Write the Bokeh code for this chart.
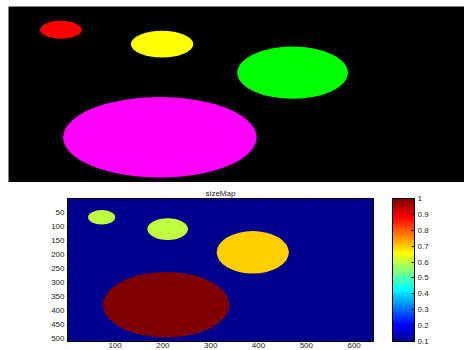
from bokeh.plotting import figure
from bokeh.layouts import column
from bokeh.models import (Range1d, LinearColorMapper, ColorBar, FixedTicker,
                          LinearAxis, ColumnDataSource)
from bokeh.embed import file_html
from bokeh.resources import INLINE

# Blob centres, diameters (pixels of a 640x512 image) and their size values
blob_x = [72, 210, 388, 207]
blob_y = [68, 110, 193, 381]
blob_w = [57, 85, 151, 264]
blob_h = [52, 78, 152, 234]
blob_val = [0.6, 0.6, 0.7, 1.0]
blob_rgb = ["#ff0000", "#ffff00", "#00ff00", "#ff00ff"]

x_ticks = [100, 200, 300, 400, 500, 600]
y_ticks = [50, 100, 150, 200, 250, 300, 350, 400, 450, 500]
cbar_ticks = [0.1, 0.2, 0.3, 0.4, 0.5, 0.6, 0.7, 0.8, 0.9, 1]


def jet(m=64):
    """MATLAB-style jet colormap with m entries."""
    n = -(-m // 4)
    u = [i / n for i in range(1, n + 1)] + [1.0] * (n - 1) + [i / n for i in range(n, 0, -1)]
    g0 = -(-n // 2) - (1 if m % 4 == 1 else 0)
    rgb = [[0.0, 0.0, 0.0] for _ in range(m)]
    for k, val in enumerate(u):
        g = g0 + k          # zero-based row index
        r = g + n
        b = g - n
        if 0 <= r < m:
            rgb[r][0] = val
        if 0 <= g < m:
            rgb[g][1] = val
        if 0 <= b < m:
            rgb[b][2] = val
    return ["#%02x%02x%02x" % tuple(int(round(c * 255)) for c in row) for row in rgb]


palette = jet(64)
src = ColumnDataSource(dict(x=blob_x, y=blob_y, w=blob_w, h=blob_h, v=blob_val, c=blob_rgb))

FONT = "Liberation Sans"

# --- colour image of the blobs -------------------------------------------
top = figure(width=464, height=182, output_backend="svg", toolbar_location=None,
             x_range=Range1d(0.5, 622.5), y_range=Range1d(512.5, 0.5),
             min_border_left=8, min_border_right=0, min_border_top=6, min_border_bottom=0)
top.frame_align = False
top.background_fill_color = "black"
top.border_fill_color = "white"
top.outline_line_color = None
top.axis.visible = False
top.grid.visible = False
top.ellipse(x="x", y="y", width="w", height="h", fill_color="c", line_color=None, source=src)

# --- size map --------------------------------------------------------------
mapper = LinearColorMapper(palette=palette, low=0.1, high=1.0)
bg = palette[0]

bot = figure(frame_width=306, frame_height=143, output_backend="svg", toolbar_location=None,
             x_range=Range1d(0.5, 640.5), y_range=Range1d(512.5, 0.5),
             min_border_left=67, min_border_right=0, min_border_top=16, min_border_bottom=0,
             title="sizeMap")
bot.frame_align = False
bot.background_fill_color = bg
bot.border_fill_color = "white"
bot.outline_line_color = "black"
bot.grid.visible = False
bot.title.align = "center"
bot.title.text_font = FONT
bot.title.text_font_size = "8px"
bot.title.text_font_style = "normal"
bot.title.text_color = "#222222"
bot.title.offset = 0
bot.title.standoff = 2

bot.ellipse(x="x", y="y", width="w", height="h", line_color=None,
            fill_color={"field": "v", "transform": mapper}, source=src)

bot.xaxis.ticker = FixedTicker(ticks=x_ticks)
bot.yaxis.ticker = FixedTicker(ticks=y_ticks)
for ax in (bot.xaxis[0], bot.yaxis[0]):
    ax.major_tick_in = 3
    ax.major_tick_out = 0
    ax.minor_tick_line_color = None
    ax.axis_line_color = "black"
    ax.major_tick_line_color = "black"
    ax.major_label_text_font = FONT
    ax.major_label_text_font_size = "8px"
    ax.major_label_text_color = "#222222"
bot.xaxis.major_label_standoff = 1
bot.yaxis.major_label_standoff = 3

# unlabelled tick marks along the top edge of the box
top_ticks = LinearAxis(ticker=FixedTicker(ticks=x_ticks),
                       major_label_overrides={t: "" for t in x_ticks},
                       major_tick_in=3, major_tick_out=0, major_label_standoff=0,
                       minor_tick_line_color=None, axis_line_color="black",
                       major_tick_line_color="black", major_label_text_font_size="8px")
bot.add_layout(top_ticks, "above")

cbar = ColorBar(color_mapper=mapper, width=22, ticker=FixedTicker(ticks=cbar_ticks),
                major_label_overrides={1: "1"},
                major_label_text_font=FONT, major_label_text_font_size="8px",
                major_label_text_color="#222222",
                label_standoff=3, major_tick_in=3, major_tick_out=0,
                major_tick_line_color="black", minor_tick_line_color=None,
                bar_line_color="black", border_line_color=None,
                background_fill_color=None, padding=0, margin=0, location=(19, 0))
bot.add_layout(cbar, "right")

layout = column(top, bot, spacing=0)

open("out.html", "w").write(file_html(layout, INLINE))
